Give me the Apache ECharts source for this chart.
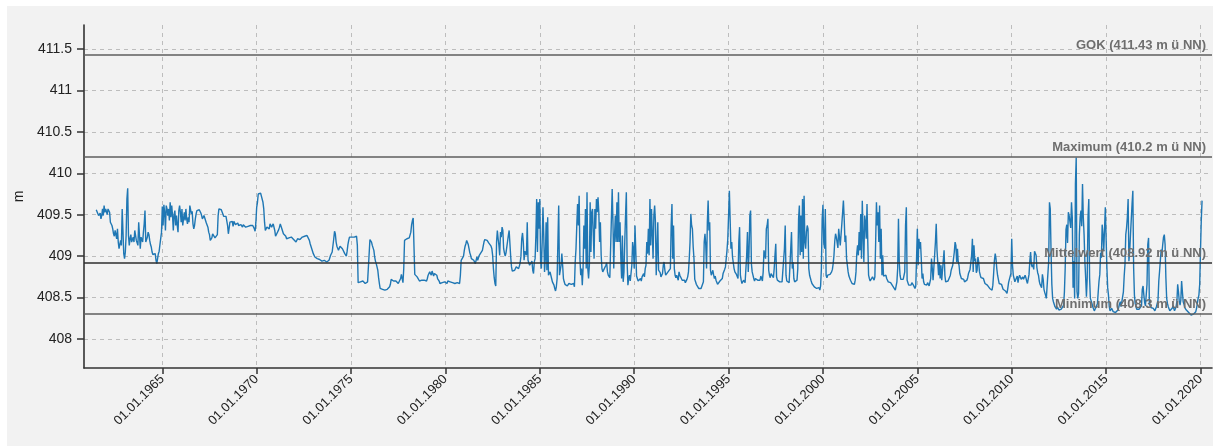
<!DOCTYPE html>
<html>
<head>
<meta charset="utf-8">
<script src="https://cdn.jsdelivr.net/npm/echarts@6/dist/echarts.min.js"></script>
<style>
  html, body { margin: 0; padding: 0; background: #fff; }
  #bg { position: absolute; left: 7px; top: 6px; width: 1206px; height: 440px; background: #f2f2f2; }
  #chart { position: absolute; left: 0; top: 0; width: 1213px; height: 446px; }
</style>
</head>
<body>
<div id="bg"></div>
<div id="chart"></div>
<script>
// Grundwasserstand in m ü NN, Stichtage am 1. und 15. jedes Monats, erster Wert = Juli 1961
const startYear = 1961;
const startMonth = 7;

// Werte am 1. des Monats
const levels1961 = [
  409.56, 409.55, 409.47, 409.45, 409.57, 409.61, 409.57, 409.50, 409.55, 409.41,
  409.37, 409.27, 409.31, 409.21, 409.17, 409.07, 409.13, 409.57, 408.97, 409.25,
  409.82, 409.13, 409.26, 409.17, 409.17, 409.33, 409.17, 409.41, 409.09, 409.23,
  409.29, 409.55, 409.17, 409.29, 409.19, 409.11, 409.02, 409.01, 408.95, 408.89,
  409.06, 409.13, 409.60, 409.62, 409.31, 409.57, 409.57, 409.65, 409.61, 409.31,
  409.55, 409.49, 409.29, 409.61, 409.41, 409.37, 409.53, 409.57, 409.39, 409.41,
  409.61, 409.54, 409.33, 409.45, 409.55, 409.57, 409.54, 409.49, 409.47, 409.46,
  409.40, 409.35, 409.26, 409.17, 409.27, 409.25, 409.21, 409.26, 409.57, 409.57,
  409.54, 409.48, 409.48, 409.46, 409.27, 409.41, 409.43, 409.36, 409.41, 409.38,
  409.40, 409.36, 409.38, 409.35, 409.39, 409.35, 409.37, 409.35, 409.37, 409.39,
  409.36, 409.30
];
const levels1970 = [
  409.59, 409.75, 409.75, 409.74, 409.65, 409.41, 409.33, 409.36, 409.33, 409.38,
  409.33, 409.37, 409.24, 409.28, 409.32, 409.39, 409.33, 409.27, 409.25, 409.21,
  409.22, 409.22, 409.23, 409.21, 409.19, 409.17, 409.21, 409.19, 409.21, 409.23,
  409.23, 409.24, 409.25, 409.23, 409.15, 409.10, 409.03, 408.99, 408.97, 408.96,
  408.96, 408.96, 408.93, 408.95, 408.94, 408.92, 408.95, 409.01, 409.05, 409.21,
  409.27, 409.12, 409.07, 409.12, 409.14, 409.10, 409.03, 409.00, 409.14, 409.23,
  409.24, 409.25, 409.23, 409.25, 409.13, 408.67, 408.69, 408.68, 408.70, 408.67,
  408.69, 408.68, 409.20, 409.17, 409.12, 408.99, 408.91, 408.83, 408.67, 408.60,
  408.60, 408.60, 408.60, 408.60, 408.60, 408.66, 408.70, 408.70, 408.69, 408.70,
  408.67, 408.69, 408.78, 408.68, 409.19, 409.21, 409.21, 409.22, 409.29, 409.43,
  409.44, 408.76, 408.75, 408.73, 408.69, 408.71, 408.69, 408.73, 408.70, 408.77,
  408.81, 408.77, 408.81, 408.79, 408.81, 408.73, 408.70, 408.68, 408.68, 408.67
];
const levels1980 = [
  408.69, 408.67, 408.71, 408.69, 408.67, 408.70, 408.67, 408.69, 408.66, 408.67,
  408.95, 408.97, 409.07, 409.15, 409.19, 409.09, 409.01, 408.99, 408.95, 408.91,
  408.99, 408.97, 409.03, 409.06, 409.12, 409.20, 409.20, 409.17, 409.15, 409.12,
  409.01, 408.74, 408.64, 409.31, 409.13, 409.29, 409.35, 409.09, 409.00, 409.11,
  409.25, 409.33, 408.87, 408.82, 408.83, 408.87, 408.86, 408.88, 409.00, 409.28,
  408.95, 409.04, 409.41, 408.97, 408.87, 408.94, 408.79, 408.97, 409.69, 409.65,
  409.69, 408.85, 409.59, 408.81, 409.41, 409.47, 408.77, 408.83, 408.69, 408.65,
  408.58, 408.73, 409.61, 408.77, 409.03, 408.73, 408.66, 408.65, 408.63, 408.68,
  408.66, 408.67, 408.63, 409.09, 409.63, 409.73, 408.77, 408.65, 409.37, 409.57,
  409.77, 408.73, 409.65, 409.53, 409.25, 409.57, 409.69, 409.71, 409.17, 409.01,
  408.81, 408.85, 408.89, 408.81, 408.75, 408.73, 409.81, 408.85, 409.49, 409.65,
  409.77, 409.41, 408.73, 408.69, 409.17, 409.77, 408.65, 408.77, 408.69, 409.17
];
const levels1990 = [
  408.85, 409.37, 408.73, 408.69, 408.73, 408.75, 408.79, 408.85, 409.17, 409.33,
  409.69, 409.57, 408.97, 409.61, 408.77, 409.41, 408.81, 408.75, 408.79, 408.93,
  408.77, 408.79, 408.79, 408.85, 409.63, 409.37, 408.77, 408.77, 408.71, 408.77,
  408.75, 408.69, 408.71, 408.67, 408.75, 408.97, 409.51, 409.33, 408.97, 408.69,
  408.65, 408.61, 408.59, 408.60, 408.69, 409.27, 408.85, 409.67, 409.41, 408.77,
  408.83, 408.73, 408.71, 408.66, 408.67, 408.70, 408.73, 408.80, 408.87, 409.07,
  409.49, 409.81, 409.17, 408.97, 408.81, 408.78, 408.73, 409.35, 408.71, 408.69,
  408.69, 408.70, 409.29, 409.05, 409.55, 408.81, 408.73, 408.73, 408.73, 408.70,
  408.71, 408.73, 408.81, 409.05, 409.33, 409.45, 408.77, 408.79, 408.77, 408.85,
  409.15, 408.71, 408.71, 408.71, 408.69, 408.67, 409.37, 408.70, 408.71, 408.67,
  409.29, 408.93, 408.69, 408.69, 408.85, 409.61, 409.49, 409.69, 409.73, 409.09,
  409.37, 408.85, 408.75, 408.67, 408.67, 408.64, 408.61, 408.61, 408.59, 408.85
];
const levels2000 = [
  409.62, 409.09, 408.77, 408.77, 408.77, 408.79, 408.84, 409.01, 409.27, 409.21,
  409.33, 409.13, 409.39, 409.67, 409.17, 408.97, 408.81, 408.75, 408.69, 408.69,
  408.66, 408.81, 409.13, 409.29, 409.51, 409.67, 408.93, 409.41, 409.63, 408.77,
  408.70, 408.71, 408.73, 408.75, 409.65, 409.53, 409.61, 409.33, 409.01, 408.75,
  408.77, 408.71, 408.70, 408.68, 408.65, 408.62, 408.59, 408.69, 409.45, 408.77,
  408.70, 408.72, 408.81, 409.59, 408.69, 408.64, 408.65, 408.67, 408.63, 408.64,
  409.33, 409.21, 409.17, 408.73, 408.69, 408.66, 408.65, 408.66, 408.63, 408.97,
  408.71, 408.73, 409.39, 409.05, 408.93, 408.89, 408.73, 409.07, 408.69, 408.68,
  408.69, 408.77, 408.85, 408.97, 409.17, 408.93, 408.93, 408.79, 408.73, 408.72,
  408.69, 408.69, 408.74, 408.81, 408.86, 409.21, 409.13, 408.97, 408.83, 408.93,
  408.77, 408.72, 408.73, 408.67, 408.69, 408.63, 408.61, 408.61, 408.65, 408.95,
  408.97, 408.77, 408.67, 408.67, 408.63, 408.59, 408.58, 408.55, 408.68, 408.73
];
const levels2010 = [
  409.21, 408.77, 408.69, 408.70, 408.68, 408.77, 408.72, 408.75, 408.70, 408.74,
  408.67, 408.78, 409.05, 408.87, 408.84, 409.08, 408.86, 408.77, 408.66, 408.62,
  408.72, 408.56, 408.49, 408.47, 409.65, 409.06, 408.49, 408.42, 408.37, 408.39,
  408.35, 408.37, 408.37, 408.41, 408.86, 409.38, 409.53, 409.47, 409.65, 408.62,
  408.49, 410.19, 408.49, 409.26, 409.55, 409.87, 409.26, 408.74, 408.74, 409.69,
  408.49, 408.43, 408.37, 408.36, 408.40, 408.57, 408.78, 408.98, 409.26, 409.06,
  409.61, 408.62, 408.39, 408.34, 408.35, 408.32, 408.32, 408.32, 408.38, 408.45,
  408.38, 408.57, 408.90, 409.34, 409.69, 409.06, 409.26, 409.79, 408.53, 408.39,
  408.34, 408.36, 408.38, 408.60, 408.53, 408.40, 408.66, 409.22, 408.40, 408.39,
  408.37, 408.34, 408.39, 408.47, 408.82, 409.08, 409.14, 409.26, 408.74, 408.43,
  408.37, 408.34, 408.37, 408.39, 408.35, 408.45, 408.57, 408.41, 408.70, 408.45,
  408.38, 408.35, 408.34, 408.32, 408.29, 408.30, 408.30, 408.33, 408.43, 408.53,
  409.06, 409.67
];

// Werte am 15. des Monats
const mid1961 = [
  409.55, 409.49, 409.52, 409.49, 409.49, 409.53, 409.54, 409.57, 409.53, 409.39,
  409.33, 409.24, 409.29, 409.33, 409.09, 409.19, 409.57, 409.03, 409.05, 409.69,
  409.25, 409.21, 409.17, 409.23, 409.31, 409.19, 409.13, 409.25, 409.23, 409.17,
  409.39, 409.17, 409.23, 409.26, 409.14, 409.05, 409.01, 409.03, 408.91, 409.03,
  409.14, 409.29, 409.37, 409.53, 409.61, 409.49, 409.43, 409.47, 409.49, 409.50,
  409.37, 409.37, 409.55, 409.53, 409.57, 409.45, 409.43, 409.45, 409.47, 409.61,
  409.51, 409.39, 409.37, 409.51, 409.57, 409.56, 409.52, 409.45, 409.49, 409.44,
  409.38, 409.29, 409.19, 409.22, 409.26, 409.22, 409.24, 409.49, 409.56, 409.56,
  409.51, 409.47, 409.48, 409.37, 409.29, 409.39, 409.42, 409.42, 409.38, 409.39,
  409.37, 409.37, 409.36, 409.38, 409.37, 409.36, 409.36, 409.36, 409.38, 409.37,
  409.33, 409.41
];
const mid1970 = [
  409.65, 409.74, 409.76, 409.75, 409.57, 409.31, 409.35, 409.35, 409.39, 409.35,
  409.39, 409.31, 409.25, 409.29, 409.35, 409.38, 409.31, 409.25, 409.24, 409.22,
  409.22, 409.22, 409.22, 409.20, 409.18, 409.19, 409.20, 409.20, 409.22, 409.23,
  409.24, 409.25, 409.24, 409.19, 409.12, 409.06, 409.01, 408.98, 408.97, 408.96,
  408.96, 408.94, 408.92, 408.95, 408.93, 408.94, 408.98, 409.03, 409.07, 409.30,
  409.17, 409.10, 409.05, 409.14, 409.09, 409.07, 409.01, 409.06, 409.19, 409.24,
  409.23, 409.24, 409.25, 409.24, 408.68, 408.69, 408.68, 408.70, 408.68, 408.68,
  408.69, 408.69, 409.22, 409.13, 409.07, 408.94, 408.87, 408.74, 408.61, 408.59,
  408.60, 408.59, 408.61, 408.60, 408.63, 408.72, 408.70, 408.70, 408.70, 408.68,
  408.68, 408.73, 408.73, 408.85, 409.20, 409.21, 409.22, 409.23, 409.38, 409.46,
  408.78, 408.76, 408.74, 408.70, 408.70, 408.70, 408.71, 408.72, 408.73, 408.79,
  408.79, 408.82, 408.76, 408.80, 408.77, 408.72, 408.67, 408.69, 408.66, 408.69
];
const mid1980 = [
  408.68, 408.70, 408.70, 408.68, 408.68, 408.69, 408.68, 408.68, 408.66, 408.77,
  408.95, 409.00, 409.12, 409.19, 409.14, 409.04, 408.97, 408.95, 408.95, 408.95,
  408.95, 409.01, 409.04, 409.07, 409.17, 409.21, 409.19, 409.16, 409.14, 409.09,
  408.85, 408.67, 409.17, 409.21, 409.01, 409.23, 409.31, 409.04, 409.04, 409.18,
  409.31, 408.99, 408.82, 408.82, 408.84, 408.88, 408.85, 408.92, 409.21, 409.17,
  409.06, 409.01, 408.95, 408.89, 408.91, 408.83, 408.93, 409.25, 409.05, 409.33,
  408.93, 409.17, 409.25, 408.97, 408.83, 408.77, 408.81, 408.73, 408.67, 408.61,
  408.63, 409.17, 408.77, 408.89, 408.89, 408.69, 408.65, 408.64, 408.67, 408.67,
  408.65, 408.67, 408.93, 409.37, 409.37, 408.97, 408.85, 408.85, 409.09, 408.85,
  408.85, 408.89, 409.05, 409.57, 408.97, 409.33, 409.53, 409.53, 409.41, 408.85,
  408.79, 408.83, 408.92, 408.77, 408.74, 408.76, 409.41, 409.25, 409.17, 409.17,
  409.17, 408.97, 409.25, 408.81, 409.49, 408.93, 408.73, 408.70, 408.89, 409.09
];
const mid1990 = [
  409.37, 408.76, 408.70, 408.72, 408.70, 408.77, 408.75, 408.89, 409.03, 409.01,
  409.13, 409.27, 409.49, 409.41, 409.09, 408.83, 408.80, 408.77, 408.89, 408.83,
  408.78, 408.81, 408.81, 409.37, 408.97, 408.85, 408.74, 408.74, 408.81, 408.76,
  408.71, 408.72, 408.68, 408.72, 408.81, 409.17, 409.37, 409.11, 408.72, 408.66,
  408.64, 408.60, 408.61, 408.63, 409.17, 409.13, 409.41, 409.31, 408.83, 408.75,
  408.77, 408.76, 408.70, 408.66, 408.70, 408.71, 408.79, 408.84, 408.97, 409.21,
  409.79, 409.09, 408.99, 408.85, 408.79, 408.77, 409.17, 408.77, 408.67, 408.71,
  408.68, 409.01, 408.81, 409.49, 408.91, 408.77, 408.70, 408.75, 408.71, 408.71,
  408.76, 408.70, 409.07, 408.97, 409.37, 408.83, 408.74, 408.79, 408.74, 409.01,
  408.75, 408.70, 408.69, 408.71, 408.70, 409.09, 408.77, 408.72, 408.68, 408.70,
  408.85, 408.73, 408.68, 408.71, 409.45, 409.01, 409.05, 408.97, 409.17, 409.29,
  409.33, 408.77, 408.70, 408.66, 408.63, 408.64, 408.60, 408.62, 408.64, 409.45
];
const mid2000 = [
  409.17, 409.57, 408.74, 408.75, 408.78, 408.81, 408.91, 409.18, 409.23, 409.10,
  409.32, 409.15, 409.53, 409.45, 409.25, 408.89, 408.76, 408.71, 408.67, 408.67,
  408.71, 409.03, 409.01, 409.07, 408.97, 409.25, 409.49, 409.21, 409.17, 408.73,
  408.70, 408.75, 408.71, 409.17, 409.37, 409.17, 408.97, 408.77, 408.76, 408.75,
  408.73, 408.69, 408.69, 408.66, 408.63, 408.61, 408.60, 408.85, 408.93, 408.72,
  408.70, 408.73, 409.37, 408.71, 408.65, 408.63, 408.68, 408.65, 408.61, 408.97,
  408.89, 409.09, 408.97, 408.79, 408.66, 408.66, 408.68, 408.64, 408.73, 408.85,
  408.71, 409.17, 409.07, 408.77, 408.73, 408.71, 408.69, 408.77, 408.67, 408.70,
  408.72, 408.83, 408.89, 409.05, 409.13, 409.09, 408.89, 408.76, 408.72, 408.72,
  408.67, 408.71, 408.79, 408.84, 409.01, 408.81, 408.94, 408.80, 408.99, 408.81,
  408.74, 408.72, 408.70, 408.67, 408.65, 408.63, 408.59, 408.59, 408.79, 409.03,
  408.85, 408.72, 408.65, 408.66, 408.60, 408.61, 408.56, 408.61, 408.72, 408.79
];
const mid2010 = [
  408.89, 408.73, 408.71, 408.76, 408.74, 408.76, 408.74, 408.72, 408.77, 408.70,
  408.68, 408.94, 408.90, 408.90, 409.06, 409.01, 408.80, 408.70, 408.64, 408.78,
  408.60, 408.53, 408.47, 408.94, 409.57, 408.66, 408.45, 408.39, 408.36, 408.38,
  408.34, 408.36, 408.38, 408.57, 409.32, 409.16, 409.49, 409.34, 409.47, 408.94,
  409.87, 408.57, 408.55, 409.47, 409.36, 409.47, 408.94, 408.51, 409.47, 408.74,
  408.46, 408.39, 408.34, 408.38, 408.43, 408.70, 409.04, 409.38, 409.06, 409.59,
  408.86, 408.53, 408.34, 408.37, 408.33, 408.32, 408.31, 408.35, 408.42, 408.39,
  408.40, 408.76, 409.26, 409.47, 408.94, 409.26, 409.63, 408.86, 408.43, 408.36,
  408.37, 408.36, 408.40, 408.64, 408.44, 408.41, 409.14, 408.42, 408.38, 408.38,
  408.35, 408.36, 408.43, 408.70, 408.82, 409.04, 409.23, 409.14, 408.49, 408.39,
  408.34, 408.36, 408.40, 408.34, 408.39, 408.66, 408.46, 408.47, 408.57, 408.42,
  408.36, 408.37, 408.32, 408.32, 408.31, 408.30, 408.29, 408.37, 408.49, 408.66,
  409.43
];

// Achsenbeschriftung (Jahre)
const tickYears = [1965, 1970, 1975, 1980, 1985, 1990, 1995, 2000, 2005, 2010, 2015, 2020];
const yTicks = [408, 408.5, 409, 409.5, 410, 410.5, 411, 411.5];

// Referenzlinien
const refNames = ['GOK', 'Maximum', 'Mittelwert', 'Minimum'];
const refValues = [411.43, 410.2, 408.92, 408.3];

const levels = [].concat(levels1961, levels1970, levels1980, levels1990, levels2000, levels2010);
const mids = [].concat(mid1961, mid1970, mid1980, mid1990, mid2000, mid2010);

// x = Jahr als Dezimalzahl
const points = [];
levels.forEach((v, i) => {
  const t = startYear + (startMonth - 1 + i) / 12;
  points.push([t, v]);
  if (i < mids.length) points.push([t + 1 / 24, mids[i]]);
});

const font = "'Liberation Sans', Arial, sans-serif";
const axisColor = '#333';

const chart = echarts.init(document.getElementById('chart'));
chart.setOption({
  animation: false,
  grid: { left: 84, right: 1, top: 25, bottom: 78 },
  xAxis: {
    type: 'value',
    min: 1960.852,
    max: 2020.61,
    axisLine: { onZero: false, lineStyle: { color: axisColor, width: 1.6 } },
    axisTick: { show: true, customValues: tickYears, length: 6, lineStyle: { color: axisColor, width: 1.5 } },
    axisLabel: {
      customValues: tickYears,
      rotate: 45,
      margin: 9,
      color: '#222',
      fontSize: 13,
      fontFamily: font,
      formatter: v => '01.01.' + Math.round(v)
    },
    splitLine: { show: true, lineStyle: { type: [4, 4], color: '#bdbdbd', width: 1 } }
  },
  yAxis: {
    type: 'value',
    min: 407.65,
    max: 411.79,
    name: 'm',
    nameLocation: 'middle',
    nameRotate: 90,
    nameGap: 56,
    nameTextStyle: { color: '#222', fontSize: 14, fontFamily: font },
    axisLine: { show: true, lineStyle: { color: axisColor, width: 1.6 } },
    axisTick: { show: true, customValues: yTicks, length: 7, lineStyle: { color: axisColor, width: 1.5 } },
    axisLabel: { customValues: yTicks, margin: 12, color: '#222', fontSize: 14, fontFamily: font },
    splitLine: { show: true, lineStyle: { type: [4, 4], color: '#bdbdbd', width: 1 } }
  },
  series: [
    {
      name: 'Referenzlinien',
      type: 'line',
      data: [],
      z: 3,
      silent: true,
      markLine: {
        symbol: 'none',
        silent: true,
        label: { show: false },
        data: refValues.map((v, k) => ({
          yAxis: v,
          lineStyle: { color: k === 2 ? '#2e2e2e' : '#5e5e5e', width: 1.6, type: 'solid' }
        }))
      }
    },
    {
      name: 'Beschriftung',
      type: 'line',
      data: [],
      z: 1,
      silent: true,
      markLine: {
        symbol: 'none',
        silent: true,
        lineStyle: { color: 'rgba(0,0,0,0)', width: 1 },
        label: {
          show: true,
          position: 'insideEndTop',
          distance: [6, 3],
          color: '#6e6e6e',
          fontSize: 13,
          fontWeight: 'bold',
          fontFamily: font,
          formatter: p => p.name + ' (' + p.value + ' m ü NN)'
        },
        data: refValues.map((v, k) => ({ name: refNames[k], yAxis: v }))
      }
    },
    {
      name: 'Grundwasserstand',
      type: 'line',
      data: points,
      z: 2,
      showSymbol: false,
      lineStyle: { color: '#1f77b4', width: 1.4 }
    }
  ]
});
</script>
</body>
</html>
